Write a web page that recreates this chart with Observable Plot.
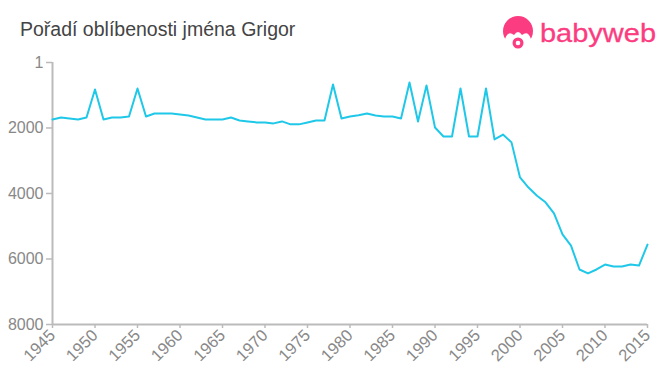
<!DOCTYPE html>
<html>
<head>
<meta charset="utf-8">
<script src="https://cdn.jsdelivr.net/npm/d3@7"></script>
<script src="https://cdn.jsdelivr.net/npm/@observablehq/plot@0.6"></script>
<style>
  html, body { margin: 0; padding: 0; background: #fff; }
  #wrap { position: relative; width: 660px; height: 375px; font-family: "Liberation Sans", Arial, sans-serif; }
  #title { position: absolute; left: 20px; top: 20px; font-size: 19.5px; line-height: 1; color: #444; white-space: nowrap; }
  #logo { position: absolute; left: 498px; top: 14px; }
  #chart { position: absolute; left: 0; top: 0; }
</style>
</head>
<body>
<div id="wrap">
  <div id="chart"></div>
  <div id="title">Pořadí oblíbenosti jména Grigor</div>
  <svg id="logo" width="162" height="40" viewBox="0 0 162 40">
    <circle cx="20" cy="17" r="15" fill="#fb3c80"/>
    <path d="M7 25 Q10 16 16 21 Q20 15 24 21 Q30 16 33 25 Q33 34 20 35 Q7 34 7 25Z" fill="#fff"/>
    <circle cx="20" cy="29" r="5.5" fill="#fb3c80"/>
    <circle cx="20" cy="29" r="2.3" fill="#fff"/>
    <text x="42" y="28" textLength="116" lengthAdjust="spacingAndGlyphs" font-family="'Liberation Sans', Arial, sans-serif" font-size="26" fill="#fb3c80" stroke="#fb3c80" stroke-width="0.3">babyweb</text>
  </svg>
</div>
<script>
const years = [1945,1946,1947,1948,1949,1950,1951,1952,1953,1954,1955,1956,1957,1958,1959,1960,1961,1962,1963,1964,1965,1966,1967,1968,1969,1970,1971,1972,1973,1974,1975,1976,1977,1978,1979,1980,1981,1982,1983,1984,1985,1986,1987,1988,1989,1990,1991,1992,1993,1994,1995,1996,1997,1998,1999,2000,2001,2002,2003,2004,2005,2006,2007,2008,2009,2010,2011,2012,2013,2014,2015];
const ranks = [1740,1680,1710,1740,1680,825,1740,1680,1680,1650,795,1650,1560,1560,1560,1590,1620,1680,1740,1740,1740,1680,1770,1800,1830,1830,1860,1800,1890,1890,1830,1770,1770,670,1710,1650,1610,1560,1620,1650,1650,1710,610,1800,700,1985,2260,2260,795,2260,2260,795,2350,2200,2440,3510,3820,4070,4270,4610,5250,5590,6320,6440,6320,6170,6230,6230,6170,6200,5560];
const xTicks = [1945,1950,1955,1960,1965,1970,1975,1980,1985,1990,1995,2000,2005,2010,2015];
const yTicks = [1,2000,4000,6000,8000];

const data = years.map((y, i) => ({year: y, rank: ranks[i]}));

const chart = Plot.plot({
  width: 660,
  height: 375,
  marginLeft: 52,
  marginTop: 62,
  marginRight: 13,
  marginBottom: 51,
  style: {fontFamily: "'Liberation Sans', Arial, sans-serif", fontSize: "16px", color: "#888", background: "transparent"},
  x: {domain: [1945, 2015], label: null},
  y: {domain: [1, 8000], reverse: true, label: null},
  marks: [
    Plot.axisX({ticks: xTicks, tickFormat: d => String(d), tickRotate: -45, tickSize: 4, stroke: "#bbb", strokeWidth: 1.5, fill: "#888", tickPadding: 4, fontSize: 16.5}),
    Plot.axisY({ticks: yTicks, tickFormat: d => String(d), tickSize: 6, stroke: "#bbb", strokeWidth: 1.5, fill: "#888", tickPadding: 3, fontSize: 16}),
    Plot.ruleX([1945], {stroke: "#bbb", strokeWidth: 2}),
    Plot.ruleY([8000], {stroke: "#bbb", strokeWidth: 2}),
    Plot.line(data, {x: "year", y: "rank", stroke: "#1fc8e8", strokeWidth: 2})
  ]
});
document.getElementById("chart").appendChild(chart);
</script>
</body>
</html>
